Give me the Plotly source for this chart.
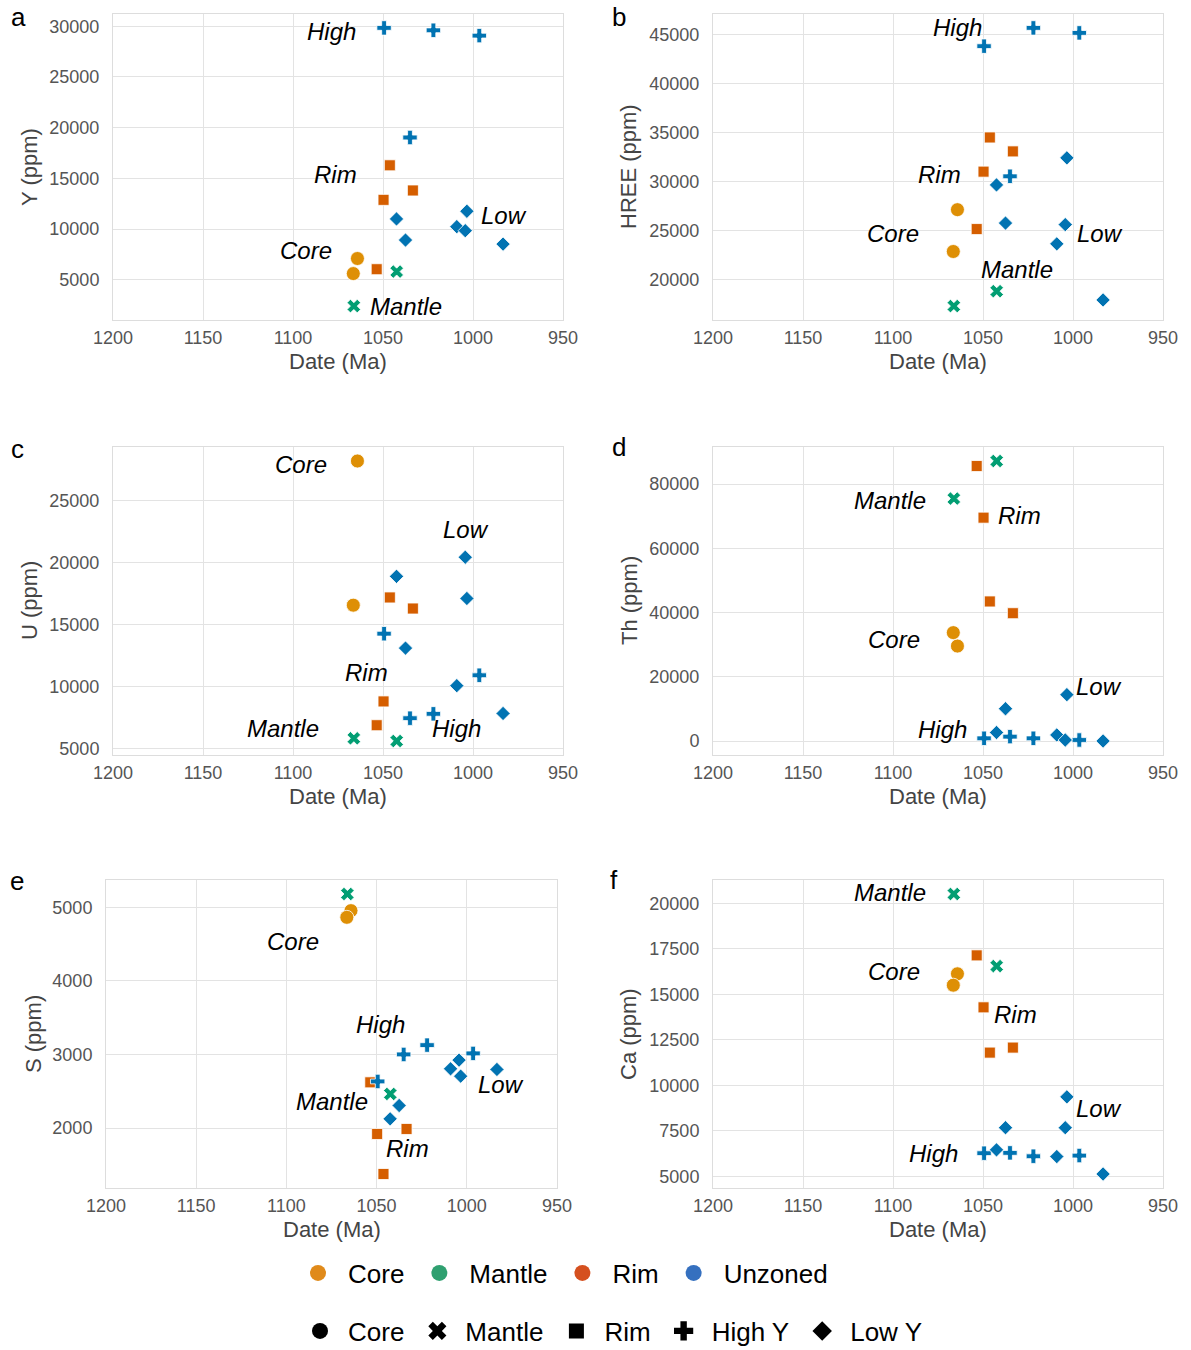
import plotly.graph_objects as go

# ---------------- data ----------------
# Dates (Ma) per grain group (shared by all panels)
core_date = [1064.2, 1066.5]
mantle_date = [1042.4, 1066.2]
rim_date = [1046.2, 1033.4, 1049.7, 1053.5]
high_date = [1049.4, 1022.0, 996.5, 1035.0]
low_date = [1042.5, 1037.5, 1003.4, 1009.0, 1004.3, 983.3]

# element concentrations (ppm), ordered like the dates above
Y_core = [7110, 5624]
Y_mantle = [5822, 2420]
Y_rim = [16295, 13815, 12890, 6054]
Y_high = [29835, 29600, 29075, 19036]
Y_low = [11008, 8927, 11767, 10249, 9852, 8530]

HREE_core = [27127, 22858]
HREE_mantle = [18810, 17286]
HREE_rim = [34497, 33074, 31007, 25147]
HREE_high = [43814, 45678, 45169, 30533]
HREE_low = [29652, 25757, 32414, 23637, 25602, 17911]

U_core = [28162, 16540]
U_mantle = [5592, 5809]
U_rim = [17162, 16270, 8782, 6863]
U_high = [14242, 7782, 10890, 7430]
U_low = [18864, 13080, 17081, 10054, 20405, 7811]

Th_core = [29570, 33750]
Th_mantle = [87205, 75510]
Th_rim = [43460, 39800, 69560, 85638]
Th_high = [835, 835, 313, 1357]
Th_low = [2640, 10050, 14437, 1880, 313, 0]

S_core = [4955, 4864]
S_mantle = [2463, 5181]
S_rim = [1375, 1987, 1919, 2621]
S_high = [2633, 3127, 3014, 3000]
S_low = [2125, 2306, 2705, 2805, 2923, 2796]

Ca_core = [16132, 15506]
Ca_mantle = [16555, 20516]
Ca_rim = [11803, 12079, 14290, 17145]
Ca_high = [6277, 6111, 6148, 6295]
Ca_low = [6461, 7677, 9372, 6093, 7677, 5135]

panel_letters = ["a", "b", "c", "d", "e", "f"]
y_titles = ["Y (ppm)", "HREE (ppm)", "U (ppm)", "Th (ppm)", "S (ppm)", "Ca (ppm)"]
y_dticks = [5000, 5000, 5000, 20000, 1000, 2500]
x_tick_vals = [1200, 1150, 1100, 1050, 1000, 950]
x_title = "Date (Ma)"

hue_labels = ["Core", "Mantle", "Rim", "Unzoned"]
style_labels = ["Core", "Mantle", "Rim", "High Y", "Low Y"]

# group label annotations per panel: (text, date, value)
group_labels = [
    [("High", 1078.7, 29505), ("Rim", 1076.6, 15400), ("Low", 982.8, 11338),
     ("Core", 1092.7, 7935), ("Mantle", 1037.4, 2420)],
    [("High", 1064.2, 45678), ("Rim", 1074.3, 30702), ("Core", 1100.0, 24672),
     ("Low", 984.8, 24672), ("Mantle", 1030.9, 21013)],
    [("Core", 1095.4, 27892), ("Low", 1004.0, 22621), ("Rim", 1059.4, 11080),
     ("Mantle", 1105.4, 6620), ("High", 1009.0, 6620)],
    [("Mantle", 1101.7, 74989), ("Rim", 1029.5, 70082), ("Core", 1099.6, 31663),
     ("Low", 985.7, 17047), ("High", 1072.6, 3475)],
    [("Core", 1096.5, 4538), ("High", 1047.9, 3401), ("Low", 981.3, 2590),
     ("Mantle", 1075.0, 2363), ("Rim", 1032.7, 1715)],
    [("Mantle", 1101.7, 20608), ("Core", 1099.6, 16279), ("Rim", 1032.0, 13885),
     ("Low", 985.3, 8727), ("High", 1077.3, 6277)],
]

panels = [
    (Y_core, Y_mantle, Y_rim, Y_high, Y_low),
    (HREE_core, HREE_mantle, HREE_rim, HREE_high, HREE_low),
    (U_core, U_mantle, U_rim, U_high, U_low),
    (Th_core, Th_mantle, Th_rim, Th_high, Th_low),
    (S_core, S_mantle, S_rim, S_high, S_low),
    (Ca_core, Ca_mantle, Ca_rim, Ca_high, Ca_low),
]

# ---------------- style ----------------
W, H = 1191, 1350
FONT = "Liberation Sans, Arial, sans-serif"
C_CORE = "#DE8F05"
C_MANTLE = "#029E73"
C_RIM = "#D55E00"
C_BLUE = "#0173B2"
LEG_COLORS = ["#E08A1A", "#2FA070", "#D5501F", "#3570BF"]

groups = [
    ("Core", core_date, C_CORE, "circle", 14),
    ("Mantle", mantle_date, C_MANTLE, "x", 12),
    ("Rim", rim_date, C_RIM, "square", 11),
    ("High Y", high_date, C_BLUE, "cross", 12),
    ("Low Y", low_date, C_BLUE, "diamond", 11),
]

# pixel boxes of plot areas: (x0, x1, y0_top, y1_bottom)
boxes = [
    (113, 563, 14, 320), (713, 1163, 14, 320),
    (113, 563, 447, 755), (713, 1163, 447, 755),
    (106, 557, 880, 1188), (713, 1163, 880, 1188),
]
letter_pos = [(18, 17), (619, 17), (17, 449), (619, 447), (17, 881), (614, 880)]
ytitle_x = [30, 629, 30, 630, 33, 628]

fig = go.Figure()
layout = dict(
    width=W, height=H, margin=dict(l=0, r=0, t=0, b=0, autoexpand=False),
    paper_bgcolor="white", plot_bgcolor="white",
    font=dict(family=FONT, color="#444444"),
    showlegend=True,
)
annotations = []

for i, vals in enumerate(panels):
    n = "" if i == 0 else str(i + 1)
    xa, ya = "x" + n, "y" + n
    for (name, dates, col, sym, sz), v in zip(groups, vals):
        fig.add_trace(go.Scatter(
            x=dates, y=v, mode="markers", xaxis=xa, yaxis=ya,
            marker=dict(color=col, symbol=sym, size=sz,
                        line=dict(color="white", width=0.8)),
            showlegend=False, hoverinfo="skip"))
    allv = [a for grp in vals for a in grp]
    lo, hi = min(allv), max(allv)
    pad = 0.05 * (hi - lo)
    x0, x1, t, b = boxes[i]
    axis_common = dict(showgrid=True, gridcolor="#e3e3e3", gridwidth=1,
                       showline=True, linecolor="#dddddd", linewidth=1, mirror=True,
                       zeroline=False, ticks="", automargin=False,
                       tickfont=dict(family=FONT, size=18, color="#555555"))
    layout["xaxis" + n] = dict(
        domain=[x0 / W, x1 / W], anchor=ya, range=[1200, 950],
        tickvals=x_tick_vals, ticklabelstandoff=1, **axis_common)
    layout["yaxis" + n] = dict(
        domain=[1 - b / H, 1 - t / H], anchor=xa, range=[lo - pad, hi + pad],
        dtick=y_dticks[i], tickformat="d", ticklabelstandoff=9, **axis_common)
    # axis titles
    annotations.append(dict(x=(x0 + x1) / 2 / W, y=1 - (b + 41) / H, xref="paper", yref="paper",
                            text=x_title, showarrow=False,
                            font=dict(family=FONT, size=22, color="#444444"),
                            xanchor="center", yanchor="middle"))
    annotations.append(dict(x=ytitle_x[i] / W, y=1 - (t + b) / 2 / H, xref="paper", yref="paper",
                            text=y_titles[i], showarrow=False, textangle=-90,
                            font=dict(family=FONT, size=22, color="#444444"),
                            xanchor="center", yanchor="middle"))
    for txt, dx, dy in group_labels[i]:
        annotations.append(dict(x=dx, y=dy, xref=xa, yref=ya, text="<i>%s</i>" % txt,
                                showarrow=False, font=dict(family=FONT, size=24, color="black"),
                                xanchor="center", yanchor="middle"))
    lx, ly = letter_pos[i]
    annotations.append(dict(x=lx / W, y=1 - ly / H, xref="paper", yref="paper",
                            text=panel_letters[i], showarrow=False,
                            font=dict(family=FONT, size=26, color="black"),
                            xanchor="center", yanchor="middle"))

# legend entries (legend-only traces)
for lab, col in zip(hue_labels, LEG_COLORS):
    fig.add_trace(go.Scatter(x=[None], y=[None], mode="markers", name=lab,
                             marker=dict(color=col, symbol="circle", size=18),
                             legend="legend", showlegend=True))
for lab, (_, _, _, sym, sz) in zip(style_labels, groups):
    fig.add_trace(go.Scatter(x=[None], y=[None], mode="markers", name=lab,
                             marker=dict(color="black", symbol=sym, size=sz + 4),
                             legend="legend2", showlegend=True))

layout["legend"] = dict(orientation="h", x=(318 - 30) / W, xanchor="left",
                        y=1 - 1273 / H, yanchor="middle", itemwidth=50,
                        font=dict(family=FONT, size=26, color="black"),
                        bgcolor="rgba(0,0,0,0)", itemclick=False, itemdoubleclick=False)
layout["legend2"] = dict(orientation="h", x=(320 - 28) / W, xanchor="left",
                         y=1 - 1331 / H, yanchor="middle", itemwidth=46,
                         font=dict(family=FONT, size=26, color="black"),
                         bgcolor="rgba(0,0,0,0)", itemclick=False, itemdoubleclick=False)
layout["annotations"] = annotations
fig.update_layout(**layout)
fig.write_html("out.html")
